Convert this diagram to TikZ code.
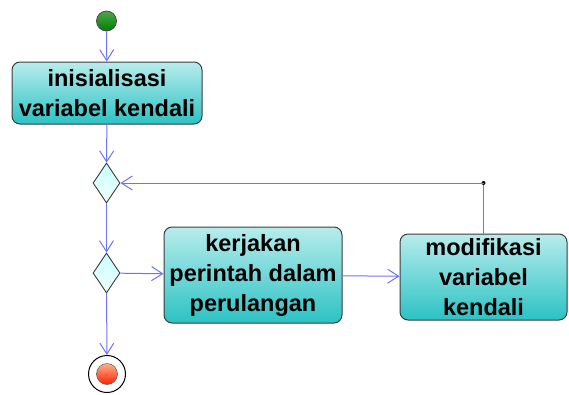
\documentclass[tikz,border=0pt]{standalone}
\usepackage{fontspec}
\setmainfont{Liberation Sans}
\usetikzlibrary{shapes.geometric,arrows.meta}

\definecolor{flowblue}{RGB}{112,112,255}
\definecolor{boxtop}{RGB}{184,236,236}
\definecolor{boxbottom}{RGB}{44,194,196}
\definecolor{boxline}{RGB}{60,60,60}

\tikzstyle{action}=[rectangle,rounded corners=8pt,draw=boxline,line width=1pt,top color=boxtop,bottom color=boxbottom,inner sep=0pt,align=center,font=\fontsize{23.5}{30}\selectfont\bfseries]
\tikzstyle{decision}=[diamond,draw=boxline,line width=0.9pt,top color=cyan!22,bottom color=cyan!5,minimum width=27pt,minimum height=40pt,inner sep=0pt]
\tikzstyle{flow} = [draw,flowblue,line width=1pt,-{Straight Barb[length=11pt,width=14pt]}]

\begin{document}
\begin{tikzpicture}[x=1pt,y=-1pt]
	\useasboundingbox (0,0) rectangle (569,394);
			\node[circle,draw=black!70,line width=0.8pt,top color=green!50!black!70,bottom color=green!50!black,minimum size=20pt,inner sep=0pt] (start) at (106.5,21) {};
			\node[action,minimum width=190pt,minimum height=62pt] (init) at (107,93) {inisialisasi\\variabel kendali};
			\node[decision] (merge) at (106.5,183) {};
			\node[decision] (check) at (106.5,273) {};
			\node[action,minimum width=178pt,minimum height=96pt] (body) at (253,275) {kerjakan\\perintah dalam\\perulangan};
			\node[action,minimum width=167pt,minimum height=86pt] (modify) at (483.5,277) {modifikasi\\variabel\\kendali};
			\node[circle,draw=black,line width=1pt,fill=white,minimum size=37pt,inner sep=0pt] (stop) at (107,374) {};
			\node[circle,draw=black!60,line width=0.6pt,top color=red!40!orange!45,bottom color=red!75!orange,minimum size=21pt,inner sep=0pt] (stopdot) at (107,374) {};
			\coordinate (back) at (483.5,183);
			% loop back from the modification to the merge
			\draw[flowblue,line width=1pt] (modify) -- (back);
			\fill (back) circle (2pt);
			\path[flow] (back) -- (merge);
			% Connect the steps with transitions
			\foreach \source/ \dest in {start/init, init/merge, merge/check, check/body, body/modify, check/stop}
				\path[flow] (\source) -- (\dest);
		\end{tikzpicture}
\end{document}
